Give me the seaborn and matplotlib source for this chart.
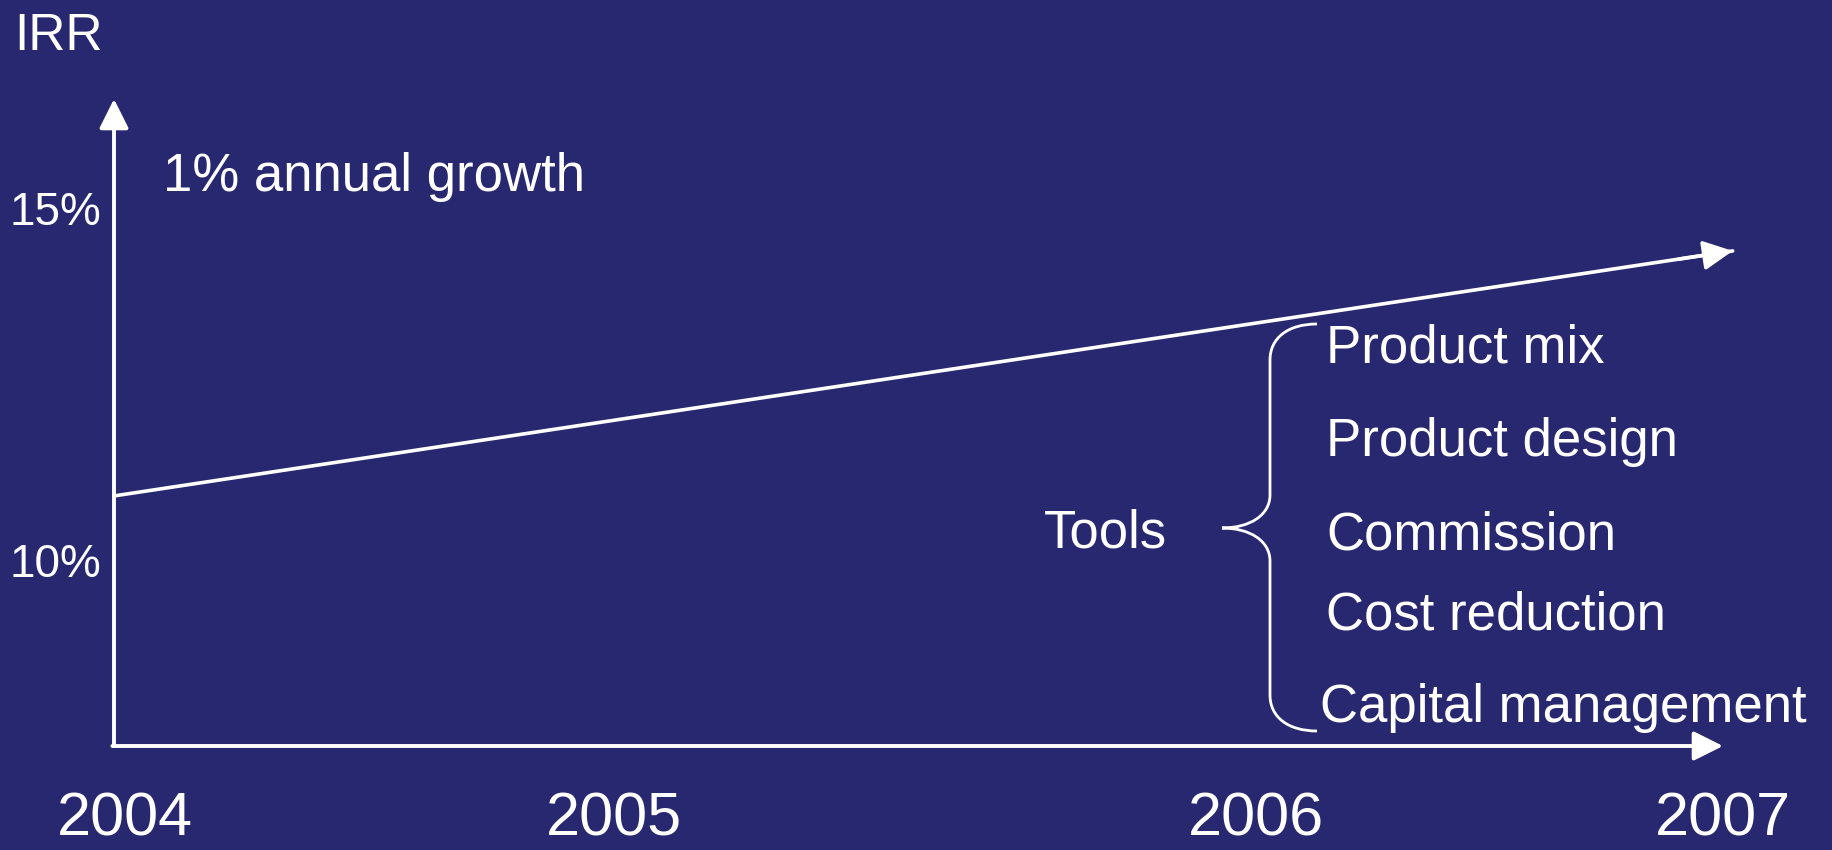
import numpy as np
import matplotlib
matplotlib.use("Agg")
import matplotlib.pyplot as plt
import seaborn as sns
from matplotlib.path import Path
from matplotlib.patches import PathPatch

# data
line_years = [2004, 2007]
line_irr = [10.91, 14.39]
y_ticks = [10, 15]
y_tick_labels = ["10%", "15%"]
year_labels = ["2004", "2005", "2006", "2007"]
year_label_pos = [2004.02, 2004.926, 2006.117, 2006.982]
tools = ["Product mix", "Product design", "Commission", "Cost reduction", "Capital management"]

BG = "#282870"
FG = "white"
W, H = 1832, 850

sns.set_theme(style="white", rc={"axes.facecolor": BG, "figure.facecolor": BG})
plt.rcParams["font.family"] = ["Liberation Sans", "DejaVu Sans"]

fig = plt.figure(figsize=(W / 100, H / 100), dpi=100)


def fxy(px, py):
    # figure pixel (from top-left) -> figure fraction
    return px / W, 1 - py / H


# axes box: y-axis at x=114px, x-axis at y=746px
ax = fig.add_axes([114 / W, (H - 746) / H, (1723 - 114) / W, (746 - 99) / H])
ax.set_xlim(2004, 2006.963)
ax.set_ylim(7.358, 16.548)
for s in ax.spines.values():
    s.set_visible(False)

arrow_kw = dict(arrowstyle="-|>,head_length=1.8,head_width=0.9", mutation_scale=10,
                color=FG, lw=2.8, shrinkA=0, shrinkB=0)
ax.annotate("", xy=(0, 1), xytext=(0, 0), xycoords="axes fraction", arrowprops=arrow_kw)
ax.annotate("", xy=(1, 0), xytext=(-0.001, 0), xycoords="axes fraction", arrowprops=arrow_kw)

# IRR trend line
sns.lineplot(x=line_years, y=line_irr, ax=ax, color=FG, lw=2.6, clip_on=False)
x_back = line_years[-1] - 0.1
y_back = np.interp(x_back, line_years, line_irr)
ax.annotate("", xy=(line_years[-1], line_irr[-1]), xytext=(x_back, y_back),
            xycoords="data", arrowprops={**arrow_kw, "lw": 2.6}, annotation_clip=False)

ax.set_yticks(y_ticks)
ax.set_yticklabels(y_tick_labels, fontsize=33, color=FG)
ax.set_xticks(year_label_pos)
ax.set_xticklabels(year_labels, fontsize=44, color=FG)
ax.tick_params(axis="y", length=0, pad=9)
ax.tick_params(axis="x", length=0, pad=33)
ax.set_xlabel("")
ax.set_ylabel("")

# texts
fig.text(*fxy(14, 50), "IRR", fontsize=37, color=FG, va="baseline")
fig.text(*fxy(163, 191), "1% annual growth", fontsize=38, color=FG, va="baseline")
fig.text(*fxy(1044, 548), "Tools", fontsize=38, color=FG, va="baseline")

tool_x = [1326, 1326, 1326, 1326, 1320]
tool_base = [363, 456, 549, 630, 722]
for name, tx, ty in zip(tools, tool_x, tool_base):
    fig.text(*fxy(tx, ty), name, fontsize=38, color=FG, va="baseline")

# brace
pts = [(1317, 324), (1288, 324), (1270, 338), (1270, 360),
       (1270, 495),
       (1270, 515), (1250, 528), (1222, 528),
       (1250, 528), (1270, 541), (1270, 561),
       (1270, 695),
       (1270, 717), (1288, 731), (1317, 731)]
codes = [Path.MOVETO, Path.CURVE4, Path.CURVE4, Path.CURVE4,
         Path.LINETO,
         Path.CURVE4, Path.CURVE4, Path.CURVE4,
         Path.CURVE4, Path.CURVE4, Path.CURVE4,
         Path.LINETO,
         Path.CURVE4, Path.CURVE4, Path.CURVE4]
brace = PathPatch(Path([fxy(*p) for p in pts], codes), transform=fig.transFigure,
                  fill=False, edgecolor=FG, lw=2.0)
fig.patches.append(brace)

fig.savefig("out.png", dpi=100, facecolor=BG)
